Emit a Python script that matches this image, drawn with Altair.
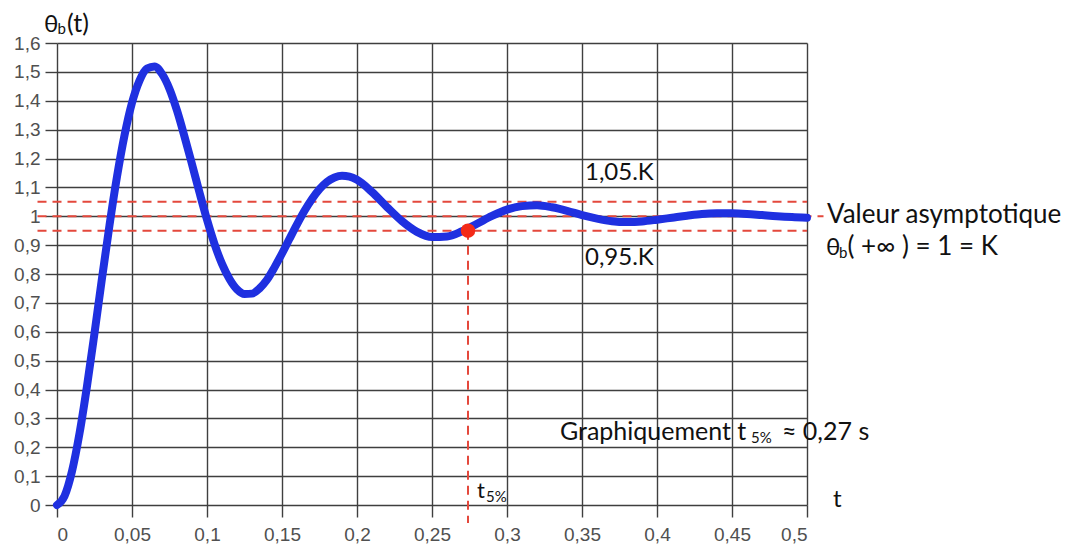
import altair as alt
import pandas as pd

# ---- curve ----
t_vals = [0, 0.005, 0.01, 0.015, 0.02, 0.025, 0.03, 0.035, 0.04, 0.045, 0.05,
          0.055, 0.06, 0.065, 0.07, 0.075, 0.08, 0.085, 0.09, 0.095, 0.1,
          0.105, 0.11, 0.115, 0.12, 0.125, 0.13, 0.135, 0.14, 0.145, 0.15,
          0.155, 0.16, 0.165, 0.17, 0.175, 0.18, 0.185, 0.19, 0.195, 0.2,
          0.21, 0.22, 0.23, 0.24, 0.25, 0.26, 0.27, 0.28, 0.29, 0.3,
          0.31, 0.32, 0.33, 0.34, 0.35, 0.36, 0.37, 0.38, 0.39, 0.4,
          0.41, 0.42, 0.43, 0.44, 0.45, 0.46, 0.47, 0.48, 0.49, 0.5]
theta_vals = [0, 0.031, 0.117, 0.248, 0.412, 0.595, 0.785, 0.969, 1.137, 1.280, 1.393,
              1.470, 1.512, 1.519, 1.493, 1.441, 1.366, 1.276, 1.180, 1.082, 0.988,
              0.904, 0.835, 0.783, 0.747, 0.731, 0.732, 0.750, 0.780, 0.823, 0.871,
              0.922, 0.972, 1.019, 1.060, 1.094, 1.119, 1.134, 1.140, 1.137, 1.126,
              1.084, 1.032, 0.983, 0.946, 0.928, 0.930, 0.948, 0.974, 1.001, 1.023,
              1.035, 1.038, 1.031, 1.019, 1.004, 0.992, 0.983, 0.980, 0.982, 0.988,
              0.995, 1.002, 1.008, 1.010, 1.010, 1.008, 1.004, 1.000, 0.997, 0.995]

# ---- axes ----
x_ticks = [0, 0.05, 0.1, 0.15, 0.2, 0.25, 0.3, 0.35, 0.4, 0.45, 0.5]
y_ticks = [0, 0.1, 0.2, 0.3, 0.4, 0.5, 0.6, 0.7, 0.8, 0.9, 1.0,
           1.1, 1.2, 1.3, 1.4, 1.5, 1.6]

# ---- reference lines ----
hline_y = [1.05, 1.0, 0.95]
hline_x0 = [-0.013, -0.013, -0.013]
hline_x1 = [0.5, 0.511, 0.5]
t5_x = [0.274]
t5_y = [0.95]
t5_ybottom = [-0.062]

# ---- annotations ----
ann_text = ["θ", "b", "(t)",
            "1,05.K", "0,95.K",
            "Valeur asymptotique",
            "θ", "b", "( +∞ ) = 1 = K",
            "Graphiquement t", "5%", "≈ 0,27 s",
            "t", "5%",
            "t"]
ann_x = [-0.0087, 0.0003, 0.0067,
         0.352, 0.352,
         0.5133,
         0.5127, 0.5213, 0.527,
         0.3353, 0.4627, 0.4833,
         0.28, 0.286,
         0.5173]
ann_y = [1.638, 1.631, 1.638,
         1.1255, 0.831,
         0.977,
         0.866, 0.855, 0.866,
         0.225, 0.2147, 0.225,
         0.0242, 0.0104,
         -0.0069]
ann_size = [24, 15, 25,
            24, 24,
            26,
            24, 15, 26,
            25, 15, 25,
            22, 15,
            24]

curve = pd.DataFrame({"t": t_vals, "theta": theta_vals})
hl = pd.DataFrame({"y": hline_y, "x0": hline_x0, "x1": hline_x1})
vl = pd.DataFrame({"x": t5_x, "y": t5_y, "yb": t5_ybottom})
ann = pd.DataFrame({"text": ann_text, "x": ann_x, "y": ann_y, "size": ann_size})

grid_color = "#3f3f3f"
label_color = "#505050"
red = "#e4483c"

xscale = alt.Scale(domain=[0, 0.5], nice=False, zero=False)
yscale = alt.Scale(domain=[0, 1.6], nice=False, zero=False)

xaxis = alt.Axis(values=x_ticks, title=None, grid=True, gridColor=grid_color,
                 gridWidth=1.4, gridOpacity=1, domain=False, tickColor=grid_color,
                 tickWidth=1.4, tickSize=12, labelPadding=8, labelOverlap=False,
                 labelExpr="replace(format(datum.value, '.2~f'), '.', ',')",
                 labelFont="Liberation Sans", labelFontSize=19,
                 labelColor=label_color)
yaxis = alt.Axis(values=y_ticks, title=None, grid=True, gridColor=grid_color,
                 gridWidth=1.4, gridOpacity=1, domain=False, tickColor=grid_color,
                 tickWidth=1.4, tickSize=12, labelPadding=5, labelOverlap=False,
                 labelExpr="replace(format(datum.value, '.1~f'), '.', ',')",
                 labelFont="Liberation Sans", labelFontSize=19,
                 labelColor=label_color)


def X(field):
    return alt.X(field, type="quantitative", scale=xscale, axis=xaxis)


def Y(field):
    return alt.Y(field, type="quantitative", scale=yscale, axis=yaxis)


base_line = alt.Chart(curve).mark_line(
    color="#1f30e0", strokeWidth=8, interpolate="monotone",
    strokeCap="round", strokeJoin="round"
).encode(x=X("t"), y=Y("theta"))

hrules = alt.Chart(hl).mark_rule(color=red, strokeWidth=2, strokeDash=[9, 6]).encode(
    x=X("x0"), x2="x1:Q", y=Y("y")
)

vrule = alt.Chart(vl).mark_rule(color=red, strokeWidth=2, strokeDash=[9, 6]).encode(
    x=X("x"), y=Y("y"), y2="yb:Q"
)

dot = alt.Chart(vl).mark_circle(color="#f42a18", opacity=1, size=210).encode(
    x=X("x"), y=Y("y")
)

texts = alt.Chart(ann).mark_text(
    font="Lato", color="#111111", align="left", baseline="alphabetic"
).encode(
    x=X("x"), y=Y("y"),
    text="text:N", size=alt.Size("size:Q", scale=None, legend=None)
)

chart = alt.layer(hrules, base_line, vrule, dot, texts).properties(
    width=750, height=462,
    autosize=alt.AutoSizeParams(type="none"),
    padding={"left": 49, "top": 35, "right": 257, "bottom": 39},
).configure_view(stroke=None).configure_axis(labelOverlap=False)

chart.save("out.html", embed_options={"renderer": "svg", "actions": False})
